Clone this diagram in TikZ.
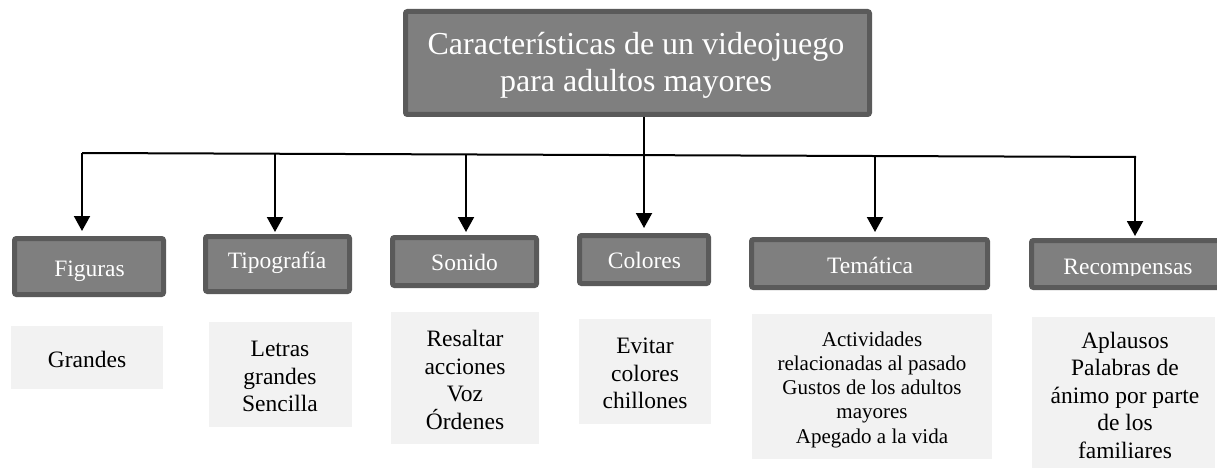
\documentclass[tikz,border=0pt]{standalone}
\usepackage{fontspec}
\setmainfont{Liberation Serif}
\usetikzlibrary{arrows.meta}
\definecolor{boxfill}{HTML}{7F7F7F}
\definecolor{boxline}{HTML}{5A5A5A}
\definecolor{notefill}{HTML}{F2F2F2}
\tikzset{
  catbox/.style={draw=boxline, fill=boxfill, line width=5pt, rounded corners=2pt, inner sep=0pt},
  notebox/.style={fill=notefill, inner sep=0pt},
  labeltext/.style={text=white, font=\fontsize{23.5}{27.5}\selectfont, anchor=base, inner sep=0pt},
  notetext/.style={font=\fontsize{23.5}{27.5}\selectfont, align=center, anchor=base, inner sep=0pt},
  smallnote/.style={font=\fontsize{21}{24.2}\selectfont, align=center, anchor=base, inner sep=0pt},
  conn/.style={line width=2pt},
  arr/.style={line width=2pt, -{Triangle[length=15pt,width=16pt]}},
}
\begin{document}
\begin{tikzpicture}[x=1pt,y=-1pt]
\useasboundingbox (0,0) rectangle (1217,468);

% title
\node[catbox, minimum width=464pt, minimum height=103pt] (title) at (637.5,63) {};
\node[text=white, font=\fontsize{32}{37}\selectfont, align=center, anchor=base, inner sep=0pt] (titletext) at (636,92) {Características de un videojuego\\para adultos mayores};

% category boxes
\node[catbox, minimum width=149pt, minimum height=56pt] (fig) at (89,266.5) {};
\node[catbox, minimum width=144pt, minimum height=55pt] (tip) at (277.5,264) {};
\node[catbox, minimum width=144pt, minimum height=48pt] (son) at (464.5,261.5) {};
\node[catbox, minimum width=129pt, minimum height=48pt] (col) at (644,259.5) {};
\node[catbox, minimum width=236pt, minimum height=48pt] (tem) at (869.5,263.5) {};
\node[catbox, minimum width=193pt, minimum height=47pt] (rec) at (1128,264) {};

\node[labeltext] (figt) at (89.5,276) {Figuras};
\node[labeltext] (tipt) at (277,268) {Tipografía};
\node[labeltext] (sont) at (464.5,270) {Sonido};
\node[labeltext] (colt) at (644.5,268) {Colores};
\node[labeltext] (temt) at (870,273) {Temática};
\begin{scope}
  \clip (1029,238) rectangle (1227,275.5);
  \node[labeltext] (rect) at (1128,274) {Recompensas};
\end{scope}

% note boxes
\node[notebox, minimum width=152pt, minimum height=63pt] (gra) at (87,357.5) {};
\node[notebox, minimum width=143pt, minimum height=105pt] (let) at (280.5,374.5) {};
\node[notebox, minimum width=148pt, minimum height=132pt] (res) at (465,378) {};
\node[notebox, minimum width=132pt, minimum height=105pt] (evi) at (645,371.5) {};
\node[notebox, minimum width=240pt, minimum height=145pt] (act) at (872,386.5) {};
\node[notebox, minimum width=183pt, minimum height=153pt] (apl) at (1123.5,393.5) {};

\node[notetext] (grat) at (87,367) {Grandes};
\node[notetext] (lett) at (280,411.5) {Letras\\grandes\\Sencilla};
\node[notetext] (rest) at (465,429) {Resaltar\\acciones\\Voz\\Órdenes};
\node[notetext] (evit) at (645,408.5) {Evitar\\colores\\chillones};
\node[smallnote] (actt) at (872,443) {Actividades\\relacionadas al pasado\\Gustos de los adultos\\mayores\\Apegado a la vida};
\node[notetext] (aplt) at (1125,458) {Aplausos\\Palabras de\\ánimo por parte\\de los\\familiares};

% connectors
\coordinate (hl) at (82,153);
\coordinate (hr) at (1136,157);
\coordinate (b1) at (82,153);
\coordinate (b2) at (275,153.7);
\coordinate (b3) at (466,154.5);
\coordinate (b5) at (875,156);
\coordinate (b6) at (1135,157);
\draw[conn] (hl) -- (hr);
\draw[arr, shorten >=5pt] (title.south -| col.north) -- (col.north);
\draw[arr, shorten >=5pt] (b1) -- (b1 |- fig.north);
\draw[arr, shorten >=2pt] (b2) -- (b2 |- tip.north);
\draw[arr, shorten >=3pt] (b3) -- (b3 |- son.north);
\draw[arr, shorten >=5pt] (b5) -- (b5 |- tem.north);
\draw[arr, shorten >=2pt] (b6) -- (b6 |- rec.north);
\end{tikzpicture}
\end{document}
